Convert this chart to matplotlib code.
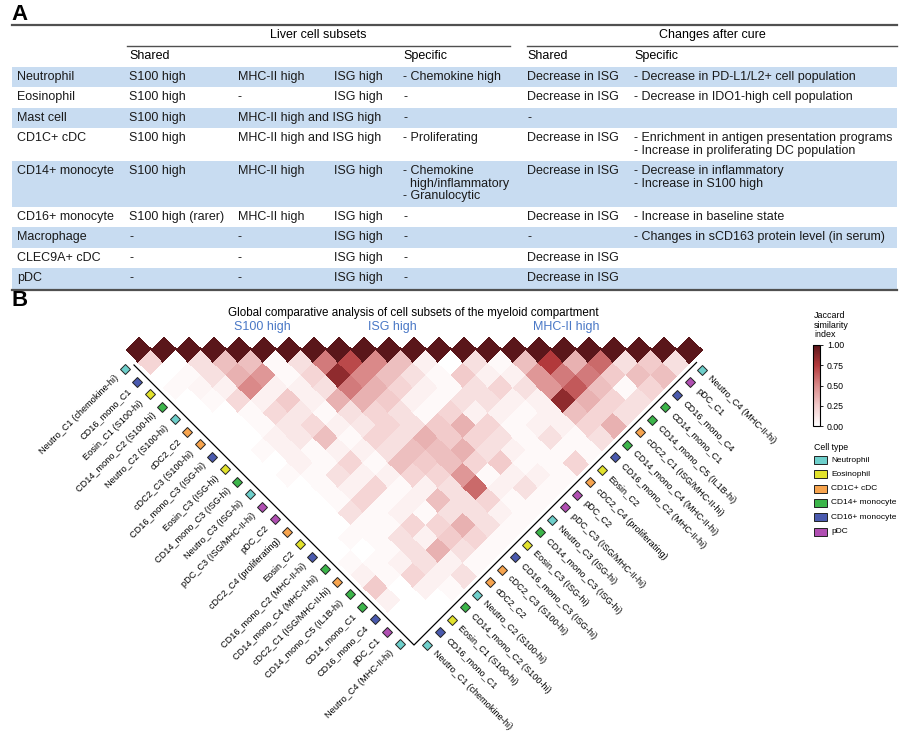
import numpy as np
import matplotlib
matplotlib.use("Agg")
import matplotlib.pyplot as plt
from matplotlib.colors import LinearSegmentedColormap
from matplotlib.patches import Rectangle
from matplotlib.transforms import Affine2D

plt.rcParams["font.family"] = ["Liberation Sans", "DejaVu Sans"]

# ---------------- Panel A: table ----------------
group_headers = ["Liver cell subsets", "Changes after cure"]
sub_headers = ["Shared", "Specific", "Shared", "Specific"]
row_names = ["Neutrophil", "Eosinophil", "Mast cell", "CD1C+ cDC", "CD14+ monocyte",
             "CD16+ monocyte", "Macrophage", "CLEC9A+ cDC", "pDC"]
liver_s100 = ["S100 high", "S100 high", "S100 high", "S100 high", "S100 high",
              "S100 high (rarer)", "-", "-", "-"]
liver_mhc = ["MHC-II high", "-", "MHC-II high and ISG high", "MHC-II high and ISG high",
             "MHC-II high", "MHC-II high", "-", "-", "-"]
liver_isg = ["ISG high", "ISG high", "", "", "ISG high", "ISG high", "ISG high",
             "ISG high", "ISG high"]
liver_specific = ["- Chemokine high", "-", "-", "- Proliferating",
                  "- Chemokine\n  high/inflammatory\n- Granulocytic", "-", "-", "-", "-"]
cure_shared = ["Decrease in ISG", "Decrease in ISG", "-", "Decrease in ISG", "Decrease in ISG",
               "Decrease in ISG", "-", "Decrease in ISG", "Decrease in ISG"]
cure_specific = ["- Decrease in PD-L1/L2+ cell population",
                 "- Decrease in IDO1-high cell population",
                 "",
                 "- Enrichment in antigen presentation programs\n- Increase in proliferating DC population",
                 "- Decrease in inflammatory\n- Increase in S100 high",
                 "- Increase in baseline state",
                 "- Changes in sCD163 protein level (in serum)",
                 "", ""]

# ---------------- Panel B: Jaccard heatmap ----------------
subsets = ["Neutro_C1 (chemokine-hi)", "CD16_mono_C1", "Eosin_C1 (S100-hi)",
           "CD14_mono_C2 (S100-hi)", "Neutro_C2 (S100-hi)", "cDC2_C2", "cDC2_C3 (S100-hi)",
           "CD16_mono_C3 (ISG-hi)", "Eosin_C3 (ISG-hi)", "CD14_mono_C3 (ISG-hi)",
           "Neutro_C3 (ISG-hi)", "pDC_C3 (ISG/MHC-II-hi)", "pDC_C2", "cDC2_C4 (proliferating)",
           "Eosin_C2", "CD16_mono_C2 (MHC-II-hi)", "CD14_mono_C4 (MHC-II-hi)",
           "cDC2_C1 (ISG/MHC-II-hi)", "CD14_mono_C5 (IL1B-hi)", "CD14_mono_C1",
           "CD16_mono_C4", "pDC_C1", "Neutro_C4 (MHC-II-hi)"]
subset_type = ["Neutrophil", "CD16+ monocyte", "Eosinophil", "CD14+ monocyte", "Neutrophil",
               "CD1C+ cDC", "CD1C+ cDC", "CD16+ monocyte", "Eosinophil", "CD14+ monocyte",
               "Neutrophil", "pDC", "pDC", "CD1C+ cDC", "Eosinophil", "CD16+ monocyte",
               "CD14+ monocyte", "CD1C+ cDC", "CD14+ monocyte", "CD14+ monocyte",
               "CD16+ monocyte", "pDC", "Neutrophil"]
cell_types = ["Neutrophil", "Eosinophil", "CD1C+ cDC", "CD14+ monocyte", "CD16+ monocyte", "pDC"]
type_colors = ["#6ECFCB", "#E2E22C", "#F7A44E", "#3CB54A", "#4A5AAE", "#B04FB2"]
group_labels = ["S100 high", "ISG high", "MHC-II high"]

# Jaccard index, listed by offset from the diagonal (offset 1, 2, ...), index i = row
jaccard_offdiag = [
    [0.20, 0.00, 0.15, 0.30, 0.30, 0.03, 0.15, 0.55, 0.70, 0.50, 0.30, 0.07, 0.00, 0.15, 0.03,
     0.30, 0.75, 0.35, 0.60, 0.15, 0.25, 0.15],
    [0.00, 0.03, 0.15, 0.35, 0.45, 0.03, 0.20, 0.85, 0.50, 0.30, 0.15, 0.03, 0.25, 0.07, 0.07,
     0.45, 0.55, 0.55, 0.25, 0.30, 0.30],
    [0.03, 0.05, 0.07, 0.50, 0.07, 0.07, 0.15, 0.55, 0.35, 0.20, 0.07, 0.03, 0.15, 0.20, 0.15,
     0.45, 0.65, 0.30, 0.03, 0.20],
    [0.00, 0.03, 0.18, 0.07, 0.25, 0.07, 0.35, 0.35, 0.25, 0.07, 0.03, 0.15, 0.15, 0.07, 0.07,
     0.85, 0.35, 0.20, 0.15],
    [0.00, 0.00, 0.03, 0.18, 0.12, 0.03, 0.15, 0.20, 0.15, 0.03, 0.20, 0.07, 0.07, 0.03, 0.07,
     0.30, 0.20, 0.15],
    [0.00, 0.00, 0.03, 0.12, 0.18, 0.07, 0.12, 0.20, 0.15, 0.25, 0.35, 0.20, 0.03, 0.07, 0.07,
     0.20, 0.35],
    [0.00, 0.00, 0.07, 0.12, 0.30, 0.03, 0.20, 0.15, 0.35, 0.25, 0.20, 0.15, 0.03, 0.15, 0.03,
     0.15],
    [0.00, 0.03, 0.07, 0.03, 0.07, 0.07, 0.15, 0.30, 0.30, 0.35, 0.15, 0.07, 0.03, 0.03, 0.03],
    [0.00, 0.00, 0.07, 0.03, 0.20, 0.03, 0.30, 0.25, 0.30, 0.20, 0.25, 0.03, 0.03, 0.20],
    [0.00, 0.03, 0.03, 0.15, 0.07, 0.07, 0.20, 0.20, 0.45, 0.03, 0.07, 0.07, 0.03],
    [0.00, 0.00, 0.03, 0.07, 0.20, 0.03, 0.07, 0.15, 0.60, 0.07, 0.15, 0.03],
    [0.00, 0.00, 0.03, 0.20, 0.03, 0.07, 0.30, 0.15, 0.20, 0.03, 0.03],
    [0.00, 0.00, 0.15, 0.03, 0.07, 0.03, 0.15, 0.15, 0.07, 0.03],
    [0.00, 0.00, 0.03, 0.03, 0.20, 0.20, 0.35, 0.15, 0.03],
    [0.00, 0.03, 0.03, 0.15, 0.07, 0.25, 0.20, 0.03],
    [0.00, 0.00, 0.03, 0.15, 0.35, 0.15, 0.03],
    [0.03, 0.03, 0.07, 0.15, 0.07, 0.03],
    [0.07, 0.03, 0.20, 0.07, 0.15],
    [0.25, 0.00, 0.07, 0.03],
    [0.07, 0.00, 0.00],
    [0.00, 0.00],
    [0.00],
]
cbar_ticks = [0.0, 0.25, 0.50, 0.75, 1.00]

BAND = "#C8DCF1"
RULE = "#505050"
BLUE_TXT = "#4A78C6"


def build_matrix():
    n = len(subsets)
    m = np.full((n, n), np.nan)
    np.fill_diagonal(m, 1.0)
    for d, vals in enumerate(jaccard_offdiag, start=1):
        assert len(vals) == n - d
        for i, v in enumerate(vals):
            m[i, i + d] = v
    return np.ma.masked_invalid(m)


def draw_table(ax):
    fs = 9.0
    ax.text(20, 14, "A", fontsize=16, fontweight="bold", ha="center", va="center")
    ax.plot([12, 897], [25, 25], color=RULE, lw=1.6)
    ax.text(318, 35, group_headers[0], fontsize=fs, ha="center", va="center")
    ax.text(712, 35, group_headers[1], fontsize=fs, ha="center", va="center")
    ax.plot([127, 510], [45.5, 45.5], color=RULE, lw=1.0)
    ax.plot([527, 897], [45.5, 45.5], color=RULE, lw=1.0)
    for x, s in zip([129, 403, 527, 634], sub_headers):
        ax.text(x, 56, s, fontsize=fs, ha="left", va="center")

    col_x = [17, 129, 238, 334, 403, 527, 634]
    columns = [row_names, liver_s100, liver_mhc, liver_isg, liver_specific,
               cure_shared, cure_specific]
    top = 66.5
    for r in range(len(row_names)):
        cells = [col[r].split("\n") for col in columns]
        n_lines = max(len(c) for c in cells)
        h = 20.5 + 12.5 * (n_lines - 1)
        if r % 2 == 0:
            ax.add_patch(Rectangle((12, top), 885, h, facecolor=BAND, edgecolor="none"))
        for x, lines in zip(col_x, cells):
            for k, line in enumerate(lines):
                ax.text(x, top + 10.3 + 12.5 * k, line, fontsize=fs, ha="left", va="center",
                        color="#1a1a1a")
        top += h
    ax.plot([12, 897], [top + 1, top + 1], color=RULE, lw=1.6)


def draw_heatmap(fig, ax, m):
    n = len(subsets)
    H = 12.5
    # (column, row) of the matrix -> rotated pixel position
    tr = Affine2D(np.array([[H, H, 126.5], [H, -H, 350.0], [0, 0, 1]])) + ax.transData
    cmap = LinearSegmentedColormap.from_list(
        "jac", [(0, "#FFFFFF"), (0.25, "#F2CBCB"), (0.5, "#DA8A8A"),
                (0.75, "#B3393B"), (1.0, "#5A161A")])
    mesh = ax.pcolormesh(np.arange(n + 1), np.arange(n + 1), m, cmap=cmap, vmin=0, vmax=1,
                         transform=tr, edgecolors="face", linewidth=0.2)

    ax.plot([0.9, n + 0.3, n + 0.3], [-0.3, -0.3, n - 0.7], color="black", lw=0.9,
            transform=tr)

    color_of = dict(zip(cell_types, type_colors))
    for k, name in enumerate(subsets):
        col = color_of[subset_type[k]]
        # left side: columns
        ax.plot(k + 0.7, -0.84, marker="D", ms=5.2, mfc=col, mec="#222222", mew=0.7,
                transform=tr)
        ax.text(k + 0.7, -1.45, name, fontsize=6.6, rotation=45, rotation_mode="anchor",
                ha="right", va="center", transform=tr)
        # right side: rows
        ax.plot(n + 0.82, k + 0.25, marker="D", ms=5.2, mfc=col, mec="#222222", mew=0.7,
                transform=tr)
        ax.text(n + 1.4, k + 0.25, name, fontsize=6.6, rotation=-45, rotation_mode="anchor",
                ha="left", va="center", transform=tr)

    ax.text(20, 301, "B", fontsize=16, fontweight="bold", ha="center", va="center")
    ax.text(413, 313, "Global comparative analysis of cell subsets of the myeloid compartment",
            fontsize=8.4, ha="center", va="center")
    for x, s in zip([262, 392, 566], group_labels):
        ax.text(x, 327, s, fontsize=9, color=BLUE_TXT, ha="center", va="center")

    # colorbar
    cax = fig.add_axes([813 / 902, 1 - 426 / 732, 7 / 902, 81 / 732])
    cb = fig.colorbar(mesh, cax=cax, ticks=cbar_ticks)
    cb.ax.set_yticklabels([f"{t:.2f}" for t in cbar_ticks])
    cb.ax.tick_params(labelsize=6.3, length=2, width=0.6, pad=3)
    cb.outline.set_linewidth(0.8)
    ax.text(814, 325, "Jaccard\nsimilarity\nindex", fontsize=6.4, ha="left", va="center",
            linespacing=1.05)

    # cell type legend
    ax.text(814, 447, "Cell type", fontsize=6.3, ha="left", va="center")
    for k, (name, col) in enumerate(zip(cell_types, type_colors)):
        y = 460 + 14.3 * k
        ax.add_patch(Rectangle((814, y - 4), 13, 8, facecolor=col, edgecolor="#222222",
                               lw=0.7))
        ax.text(831, y, name, fontsize=6.0, ha="left", va="center")


def main():
    fig = plt.figure(figsize=(9.02, 7.32), dpi=100)
    ax = fig.add_axes([0, 0, 1, 1])
    ax.set_xlim(0, 902)
    ax.set_ylim(732, 0)
    ax.axis("off")

    draw_table(ax)
    draw_heatmap(fig, ax, build_matrix())

    fig.savefig("out.png", dpi=100)
    plt.close(fig)


if __name__ == "__main__":
    main()
